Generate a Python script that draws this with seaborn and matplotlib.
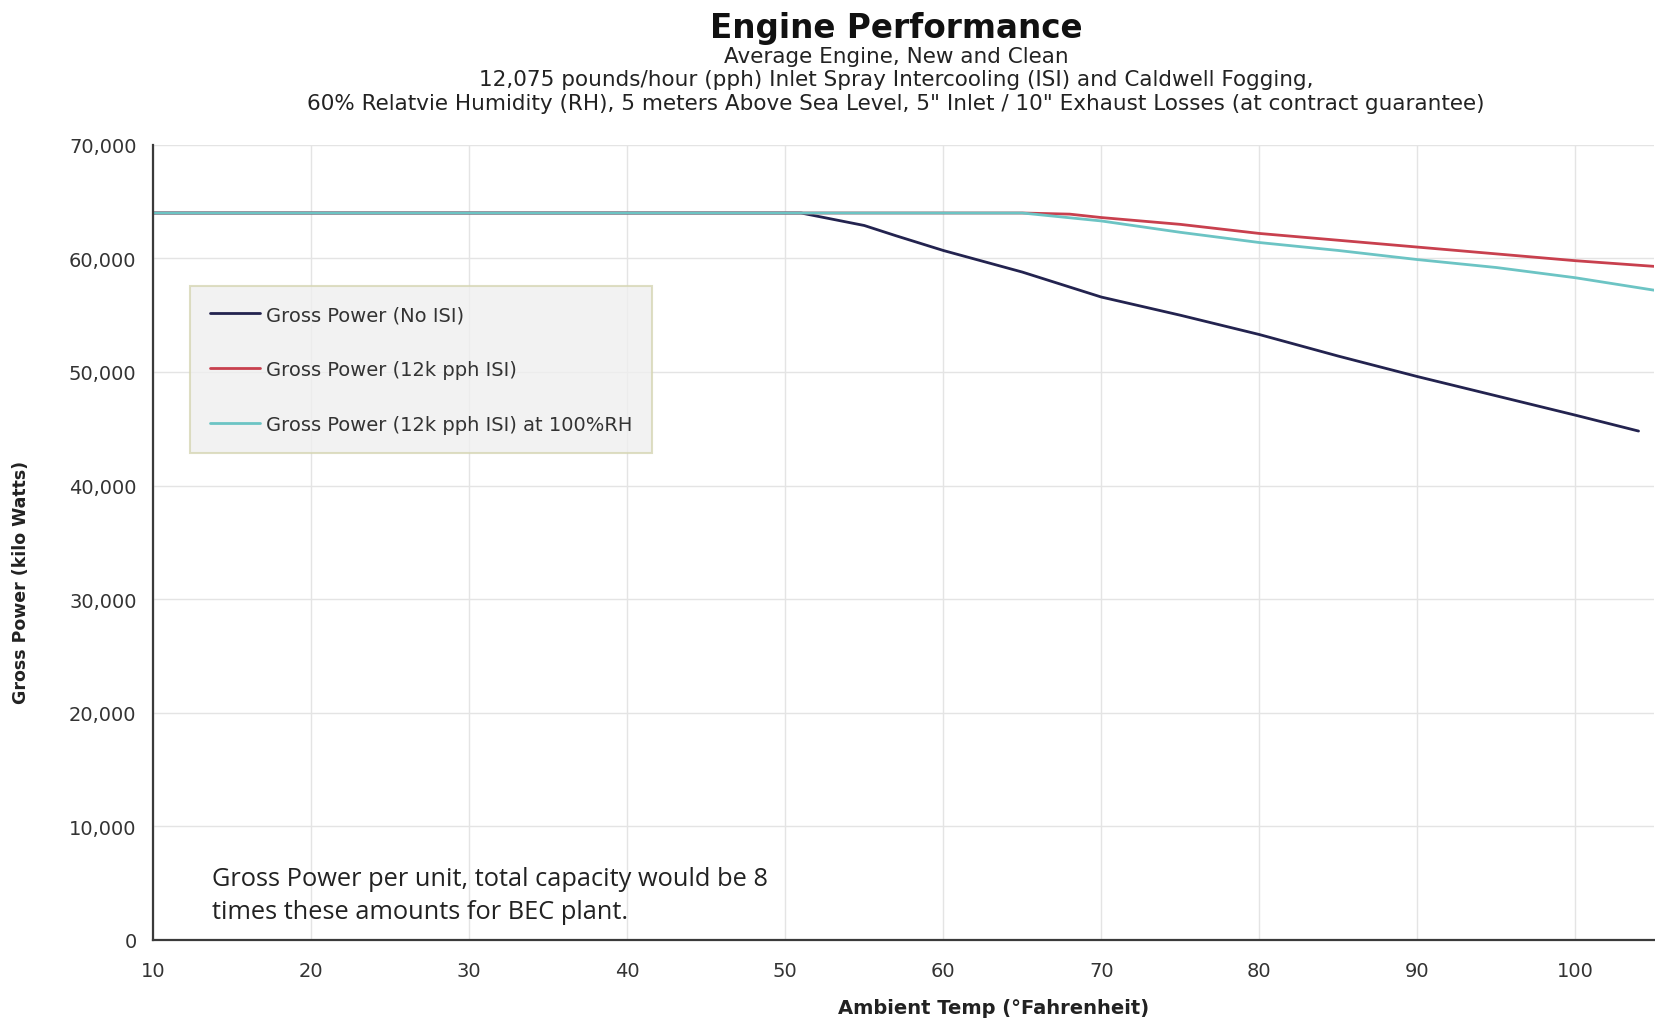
import numpy as np
import pandas as pd
import matplotlib
matplotlib.use("Agg")
import matplotlib.pyplot as plt
import seaborn as sns

# ---- data ----
temp_no_isi = [10, 20, 30, 40, 50, 51, 55, 57, 60, 65, 70, 75, 80, 85, 90, 95, 100, 104]
power_no_isi = [64000, 64000, 64000, 64000, 64000, 64000, 62900, 62000, 60700, 58800,
                56600, 55000, 53300, 51400, 49600, 47900, 46200, 44800]

temp_isi = [10, 20, 30, 40, 50, 60, 65, 68, 70, 75, 80, 85, 90, 95, 100, 105]
power_isi = [64000, 64000, 64000, 64000, 64000, 64000, 64000, 63900, 63600, 63000,
             62200, 61600, 61000, 60400, 59800, 59300]

temp_isi_rh = [10, 20, 30, 40, 50, 60, 65, 70, 75, 80, 85, 90, 95, 100, 105]
power_isi_rh = [64000, 64000, 64000, 64000, 64000, 64000, 64000, 63300, 62300, 61400,
                60700, 59900, 59200, 58300, 57200]

series_names = ["Gross Power (No ISI)", "Gross Power (12k pph ISI)",
                "Gross Power (12k pph ISI) at 100%RH"]
series_colors = ["#23234f", "#c8404e", "#6cc4c4"]

x_ticks = [10, 20, 30, 40, 50, 60, 70, 80, 90, 100]
y_ticks = [0, 10000, 20000, 30000, 40000, 50000, 60000, 70000]

df = pd.concat([
    pd.DataFrame({"temp": temp_no_isi, "power": power_no_isi, "series": series_names[0]}),
    pd.DataFrame({"temp": temp_isi, "power": power_isi, "series": series_names[1]}),
    pd.DataFrame({"temp": temp_isi_rh, "power": power_isi_rh, "series": series_names[2]}),
])

sns.set_theme(style="white")
plt.rcParams["font.family"] = ["DejaVu Sans"]

fig = plt.figure(figsize=(16.56, 10.2), dpi=100)
ax = fig.add_axes([0.0925, 0.0776, 0.9065, 0.857 - 0.0776])

sns.lineplot(data=df, x="temp", y="power", hue="series", hue_order=series_names,
             palette=series_colors, linewidth=2.0, ax=ax, sort=False)

ax.set_xlim(10, 105)
ax.set_ylim(0, 70000)
ax.set_xticks(x_ticks)
ax.set_yticks(y_ticks)
ax.set_yticklabels([f"{v:,}" for v in y_ticks])
ax.tick_params(axis="both", labelsize=14, length=5, width=1, color="#555555",
               labelcolor="#333333", direction="out", pad=7)
ax.tick_params(axis="x", pad=10)
ax.grid(True, color="#e4e4e4", linewidth=1)
for s in ["top", "right"]:
    ax.spines[s].set_visible(False)
for s in ["left", "bottom"]:
    ax.spines[s].set_color("#3a3a3a")
    ax.spines[s].set_linewidth(1.6)
ax.set_xlabel("")
ax.set_ylabel("")

leg = ax.legend(loc="upper left", bbox_to_anchor=(0.0246, 0.823), fontsize=14,
                labelspacing=1.85, borderpad=1.0, handlelength=2.6, handletextpad=0.3,
                frameon=True, fancybox=False, borderaxespad=0)
leg.get_frame().set_facecolor("#efefef")
leg.get_frame().set_edgecolor("#d6d6b4")
leg.get_frame().set_linewidth(1.5)
for t in leg.get_texts():
    t.set_color("#333333")

ax.text(13.7, 5400, "Gross Power per unit, total capacity would be 8", fontsize=18.3,
        family=["Open Sans", "DejaVu Sans"], color="#222222", va="center")
ax.text(13.7, 2500, "times these amounts for BEC plant.", fontsize=18.3,
        family=["Open Sans", "DejaVu Sans"], color="#222222", va="center")

fig.text(0.541, 0.972, "Engine Performance", ha="center", va="center",
         fontsize=23.5, fontweight="bold", color="#111111")
fig.text(0.541, 0.944, "Average Engine, New and Clean", ha="center", va="center",
         fontsize=15.5, color="#222222")
fig.text(0.541, 0.922, "12,075 pounds/hour (pph) Inlet Spray Intercooling (ISI) and Caldwell Fogging,",
         ha="center", va="center", fontsize=15.5, color="#222222")
fig.text(0.541, 0.898, "60% Relatvie Humidity (RH), 5 meters Above Sea Level, 5\" Inlet / 10\" Exhaust Losses (at contract guarantee)",
         ha="center", va="center", fontsize=15.5, color="#222222")

fig.text(0.600, 0.011, "Ambient Temp (°Fahrenheit)", ha="center", va="center",
         fontsize=14, fontweight="bold", color="#222222")
fig.text(0.0128, 0.4286, "Gross Power (kilo Watts)", ha="center", va="center",
         rotation=90, fontsize=12.5, fontweight="bold", color="#222222")

fig.savefig("out.png", dpi=100)
